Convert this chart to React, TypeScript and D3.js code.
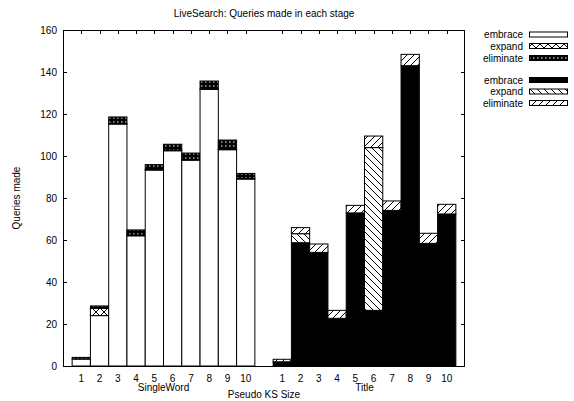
import React from "react";
import * as d3 from "d3";

const categories = ["1", "2", "3", "4", "5", "6", "7", "8", "9", "10"];
const groups = ["SingleWord", "Title"];
// SingleWord series
const swEmbrace = [3.3, 24, 115.2, 62, 93.3, 102.5, 98, 131.7, 103, 89];
const swExpand = [0, 3.5, 0.3, 0.3, 0.3, 0.3, 0.3, 0.3, 0.3, 0.3];
const swEliminate = [0.8, 1.1, 3.1, 2.5, 2.3, 2.8, 3.1, 3.7, 4.3, 2.4];
// Title series
const tEmbrace = [2, 58.7, 54.1, 22.7, 72.9, 26.5, 74.1, 143, 58.4, 72.4];
const tExpand = [0, 4.3, 0, 0, 0, 77.5, 0, 0, 0, 0];
const tEliminate = [1.2, 2.9, 4, 3.8, 3.6, 5.5, 4.5, 5.4, 4.8, 4.6];
const yTicks = [0, 20, 40, 60, 80, 100, 120, 140, 160];
const legendLabels = ["embrace", "expand", "eliminate"];

const W = 574, H = 401;
const L = 63, R = 465, T = 30, B = 366;
const FONT = "'Liberation Sans', Arial, sans-serif";

export default function App() {
  const x = d3.scaleLinear().domain([0, 22]).range([L, R]);
  const y = d3.scaleLinear().domain([0, 160]).range([B, T]);
  const bw = x(1) - x(0);

  const fills = [
    ["#fff", "url(#pExpSW)", "url(#pElimSW)"],
    ["#000", "url(#pExpT)", "url(#pElimT)"],
  ];
  const data = [
    [swEmbrace, swExpand, swEliminate],
    [tEmbrace, tExpand, tEliminate],
  ];

  const segs: any[] = [];
  data.forEach((series, g) => {
    categories.forEach((c, i) => {
      const slot = g * 11 + i + 1;
      let acc = 0;
      series.forEach((arr, s) => {
        const v = arr[i];
        if (v <= 0) return;
        segs.push({ key: `${g}-${i}-${s}`, x0: x(slot - 0.5), y0: y(acc + v), h: y(acc) - y(acc + v), fill: fills[g][s] });
        acc += v;
      });
    });
  });

  const tickSlots: number[] = [];
  for (let g = 0; g < 2; g++) for (let i = 0; i < 10; i++) tickSlots.push(g * 11 + i + 1);

  const legendRows = [34.5, 46, 58, 80, 91.5, 103];

  return (
    <svg width={W} height={H} style={{ position: "absolute", left: 0, top: 0, background: "#fff" }} fontFamily={FONT}>
      <defs>
        <pattern id="pExpSW" patternUnits="userSpaceOnUse" width={8} height={8}>
          <rect width={8} height={8} fill="#fff" />
          <path d="M0,0L8,8M8,0L0,8" stroke="#000" strokeWidth={1} />
        </pattern>
        <pattern id="pElimSW" patternUnits="userSpaceOnUse" width={4} height={4}>
          <rect width={4} height={4} fill="#000" />
          <rect x={1} y={1.5} width={1.5} height={1} fill="#fff" />
        </pattern>
        <pattern id="pExpT" patternUnits="userSpaceOnUse" width={7} height={7}>
          <rect width={7} height={7} fill="#fff" />
          <path d="M0,0L7,7M-2,5L2,9M5,-2L9,2" stroke="#000" strokeWidth={1} />
        </pattern>
        <pattern id="pElimT" patternUnits="userSpaceOnUse" width={7} height={7}>
          <rect width={7} height={7} fill="#fff" />
          <path d="M0,7L7,0M-2,2L2,-2M5,9L9,5" stroke="#000" strokeWidth={1} />
        </pattern>
      </defs>

      <text x={(L + R) / 2} y={17} textAnchor="middle" fontSize={10}>LiveSearch: Queries made in each stage</text>

      {/* ticks */}
      <g stroke="#000" strokeWidth={1}>
        {yTicks.map((t) => (
          <g key={t}>
            <line x1={L} x2={L + 4} y1={Math.round(y(t)) + 0.5} y2={Math.round(y(t)) + 0.5} />
            <line x1={R - 4} x2={R} y1={Math.round(y(t)) + 0.5} y2={Math.round(y(t)) + 0.5} />
          </g>
        ))}
        {tickSlots.map((s) => (
          <g key={s}>
            <line x1={Math.round(x(s)) + 0.5} x2={Math.round(x(s)) + 0.5} y1={T} y2={T + 4} />
            <line x1={Math.round(x(s)) + 0.5} x2={Math.round(x(s)) + 0.5} y1={B - 4} y2={B} />
          </g>
        ))}
      </g>

      {segs.map((d) => (
        <rect key={d.key} x={d.x0} y={d.y0} width={bw} height={d.h} fill={d.fill} stroke="#000" strokeWidth={1} />
      ))}

      <rect x={L + 0.5} y={T + 0.5} width={R - L - 1} height={B - T} fill="none" stroke="#000" strokeWidth={1} />

      {yTicks.map((t) => (
        <text key={t} x={57} y={y(t) + 3.5} textAnchor="end" fontSize={10}>{t}</text>
      ))}
      {tickSlots.map((s, k) => (
        <text key={s} x={x(s)} y={382} textAnchor="middle" fontSize={10}>{categories[k % 10]}</text>
      ))}
      {groups.map((g, gi) => (
        <text key={g} x={x(gi * 11 + 5.5)} y={390.5} textAnchor="middle" fontSize={10}>{g}</text>
      ))}
      <text x={(L + R) / 2} y={397.5} textAnchor="middle" fontSize={10}>Pseudo KS Size</text>
      <text transform={`translate(20,${(T + B) / 2}) rotate(-90)`} textAnchor="middle" fontSize={10}>Queries made</text>

      {legendRows.map((ry, k) => {
        const g = k < 3 ? 0 : 1;
        const s = k % 3;
        return (
          <g key={k}>
            <text x={523} y={ry + 3.5} textAnchor="end" fontSize={10}>{legendLabels[s]}</text>
            <rect x={529.5} y={ry - 2.5} width={38} height={5} fill={fills[g][s]} stroke="#000" strokeWidth={1} />
          </g>
        );
      })}
    </svg>
  );
}
